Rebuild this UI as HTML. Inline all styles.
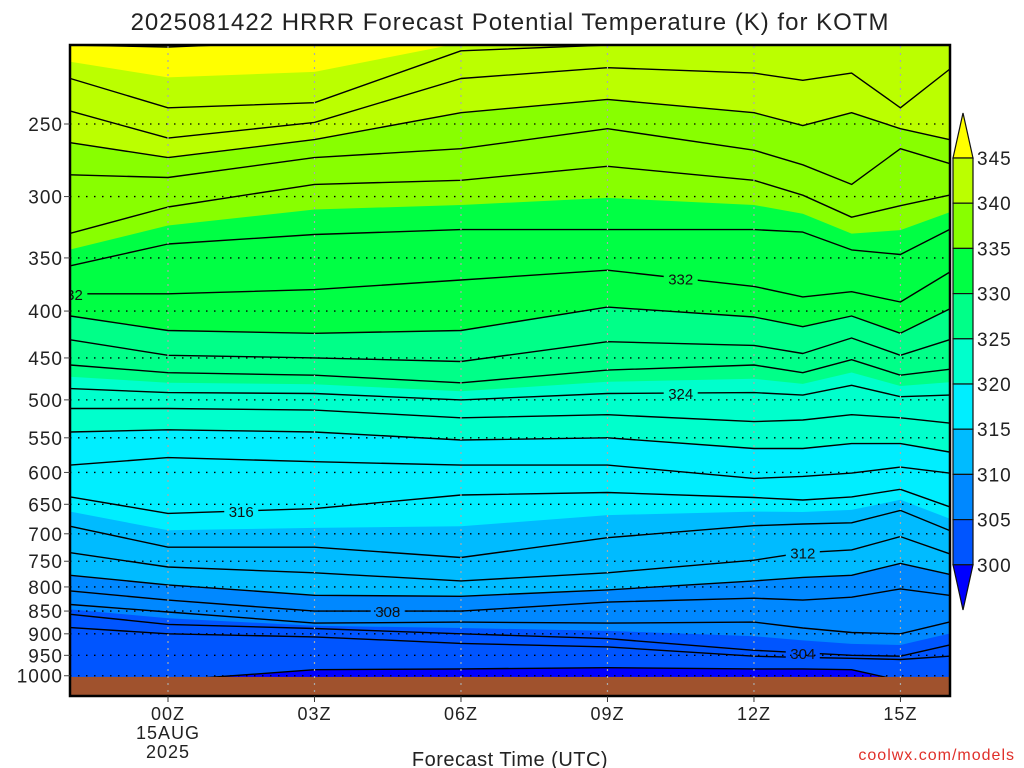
<!DOCTYPE html>
<html><head><meta charset="utf-8"><style>
html,body{margin:0;padding:0;background:#fff;}
svg{display:block;font-family:"Liberation Sans",sans-serif;}
</style></head><body>
<svg id="chart" width="1024" height="768" viewBox="0 0 1024 768" xmlns="http://www.w3.org/2000/svg">
<text x="510" y="30" text-anchor="middle" font-size="24" fill="#222" letter-spacing="1">2025081422 HRRR Forecast Potential Temperature (K) for KOTM</text>
<defs><clipPath id="plotclip"><rect x="70" y="45" width="880" height="651"/></clipPath></defs>
<g id="plot" clip-path="url(#plotclip)"></g>
<g id="overlay"></g>
<rect x="70" y="45" width="880" height="651" fill="none" stroke="#000" stroke-width="2.5"/>
<g id="axes"></g>
<g id="colorbar"></g>
<text x="510" y="766" text-anchor="middle" font-size="20" fill="#222" letter-spacing="0.5">Forecast Time (UTC)</text>
<text x="1015" y="760" text-anchor="end" font-size="16" fill="#e0302a" letter-spacing="1">coolwx.com/models</text>
</svg>
<script>
const times=[-2,0,3,6,9,12,13,14,15,16];
const levels=[300,302,304,306,308,310,312,314,316,318,320,322,324,326,328,330,332,334,336,338,340,342,344,346];
const th346=[205,206,203,200,196,196,196,196,196,196];
const th344=[223,240,237,208,205,202,202,202,202,202];
const th342=[242,259,249,223,217,220,224,220,240,218];
const th340=[262,272,260,243,235,243,251,243,253,260];
const th338=[284,286,272,266,253,267,277,291,266,276];
const th336=[329,308,291,288,278,288,299,316,307,299];
const th334=[357,338,330,326,326,326,328,343,347,326];
const th332=[383,383,379,370,361,376,386,381,391,363];
const th330=[405,420,423,420,396,406,416,405,423,398];
const th328=[430,447,450,454,432,436,445,428,447,430];
const th326=[458,467,470,479,464,458,467,452,470,463];
const th324=[486,491,492,500,492,491,494,482,496,494];
const th322=[511,511,513,523,519,528,526,519,523,530];
const th320=[542,539,542,553,550,565,565,558,558,570];
const th318=[589,578,584,589,589,609,606,601,592,601];
const th316=[638,665,657,635,631,639,643,638,626,654];
const th314=[687,724,724,743,707,686,683,681,660,694];
const th312=[734,761,772,788,772,748,734,729,705,736];
const th310=[777,796,817,819,806,788,781,777,754,775];
const th308=[808,827,850,850,831,823,827,821,804,817];
const th306=[836,852,876,874,876,874,887,897,900,874];
const th304=[857,879,888,900,911,938,944,950,952,926];
const th302=[886,900,907,922,930,952,955,957,960,952];
const th300=[1012,1012,985,983,980,983,983,985,1012,1012];
const contours=[th300,th302,th304,th306,th308,th310,th312,th314,th316,th318,th320,th322,th324,th326,th328,th330,th332,th334,th336,th338,th340,th342,th344,th346];
const bandLevels=[300,305,310,315,320,325,330,335,340,345];
const bandColors=["#0000ff","#0055ff","#0088ff","#00bbff","#00eeff","#00ffcc","#00ff88","#00ff44","#88ff00","#bbff00","#ffff00"];
const pressureTicks=[250,300,350,400,450,500,550,600,650,700,750,800,850,900,950,1000];
const timeTicks=[0,3,6,9,12,15];
const timeTickLabels=["00Z","03Z","06Z","09Z","12Z","15Z"];
const contourLabels=[[332,0,0],[332,5,1],[336,10,0],[328,11,0],[324,5,1],[324,13,1],[320,12,0],[316,2,1],[316,13,1],[312,6,0],[308,3,1],[308,13,1],[304,6,0],[300,10,0]];
const groundPressure=1003;

const NS="http://www.w3.org/2000/svg";
function X(t){return 168+48.83*t;}
function Y(p){return 124+398*Math.log(p/250);}
function mk(tag,attrs,parent){const e=document.createElementNS(NS,tag);for(const k in attrs)e.setAttribute(k,attrs[k]);parent.appendChild(e);return e;}
const plot=document.getElementById('plot');
const overlay=document.getElementById('overlay');
const axes=document.getElementById('axes');
const cb=document.getElementById('colorbar');

function levelPressures(th){
  let i=0;while(i<levels.length-2&&levels[i+1]<th)i++;
  const f=(th-levels[i])/(levels[i+1]-levels[i]);
  return times.map((t,k)=>Math.exp(Math.log(contours[i][k])*(1-f)+Math.log(contours[i+1][k])*f));
}
function linePts(ps){return times.map((t,k)=>X(t).toFixed(1)+","+Y(ps[k]).toFixed(1));}

const base=mk('rect',{x:70,y:45,width:880,height:651,fill:bandColors[0]},plot);


bandLevels.forEach((lv,bi)=>{
  const ps=levelPressures(lv);
  const pts=linePts(ps);
  const d="M"+X(times[0])+",40 L"+pts.join(" L")+" L"+X(times[times.length-1])+",40 Z";
  const e=mk('path',{d:d,fill:bandColors[bi+1]},plot);
  
  
});
contours.forEach((arr,i)=>{
  const e=mk('polyline',{points:linePts(arr).join(" "),fill:"none",stroke:"#000","stroke-width":1.4,"stroke-linejoin":"round"},plot);
  
  
});
const g=mk('rect',{x:70,y:Y(groundPressure),width:880,height:700-Y(groundPressure),fill:"#a0522d"},plot);


// labels
contourLabels.forEach(([lv,k,frac])=>{
  const idx=levels.indexOf(lv);const arr=contours[idx];
  let x,p;
  if(frac){x=(X(times[k-1])+X(times[k]))/2;p=Math.sqrt(arr[k-1]*arr[k]);}else{x=X(times[k]);p=arr[k];}
  const y=Y(p);
  const bi=bandLevels.filter(b=>b<=lv).length;
  const r=mk('rect',{x:x-17,y:y-8,width:34,height:16,fill:bandColors[bi]},plot);
  
  
  const t=mk('text',{x:x,y:y+6,"text-anchor":"middle","font-size":15,fill:"#111"},plot);
  
  
  t.textContent=lv;
});
// gridlines
pressureTicks.forEach(p=>{
  const y=Y(p);
  const l=mk('line',{x1:70,x2:950,y1:y,y2:y,stroke:"#000","stroke-width":1.3,"stroke-dasharray":"1.5 6.5"},overlay);
  
  
  const tk=mk('line',{x1:64,x2:70,y1:y,y2:y,stroke:"#444","stroke-width":1},axes);
  
  
  const t=mk('text',{x:63,y:y+7,"text-anchor":"end","font-size":19,fill:"#222","letter-spacing":"1"},axes);
  
  
  t.textContent=p;
});
timeTicks.forEach((tt,i)=>{
  const x=X(tt);
  const l=mk('line',{x1:x,x2:x,y1:46,y2:695,stroke:"#aaa","stroke-width":1.2,"stroke-dasharray":"2 5"},overlay);
  
  
  const tk=mk('line',{x1:x,x2:x,y1:696,y2:702,stroke:"#333","stroke-width":1},axes);
  
  
  const t=mk('text',{x:x,y:720,"text-anchor":"middle","font-size":18,fill:"#222","letter-spacing":"1"},axes);
  
  
  t.textContent=timeTickLabels[i];
});
const d1=mk('text',{x:X(0),y:739,"text-anchor":"middle","font-size":18,fill:"#222","letter-spacing":"1"},axes);


d1.textContent="15AUG";
const d2=mk('text',{x:X(0),y:758,"text-anchor":"middle","font-size":18,fill:"#222","letter-spacing":"1"},axes);


d2.textContent="2025";
// colorbar
const cbTop=158,cbStep=45.2,cx0=953,cx1=973;
const tri1=mk('path',{d:`M${cx0},${cbTop} L${(cx0+cx1)/2},113 L${cx1},${cbTop} Z`,fill:bandColors[10],stroke:"#111","stroke-width":1.2},cb);


for(let i=0;i<9;i++){
  const r=mk('rect',{x:cx0,y:cbTop+i*cbStep,width:cx1-cx0,height:cbStep,fill:bandColors[9-i],stroke:"#111","stroke-width":1.2},cb);
  
  
}
const yb=cbTop+9*cbStep;
const tri2=mk('path',{d:`M${cx0},${yb} L${(cx0+cx1)/2},610 L${cx1},${yb} Z`,fill:bandColors[0],stroke:"#111","stroke-width":1.2},cb);


bandLevels.slice().reverse().forEach((lv,i)=>{
  const t=mk('text',{x:977,y:cbTop+i*cbStep+7,"font-size":19,fill:"#222","letter-spacing":"1"},cb);
  
  
  t.textContent=lv;
});
</script>
</body></html>
